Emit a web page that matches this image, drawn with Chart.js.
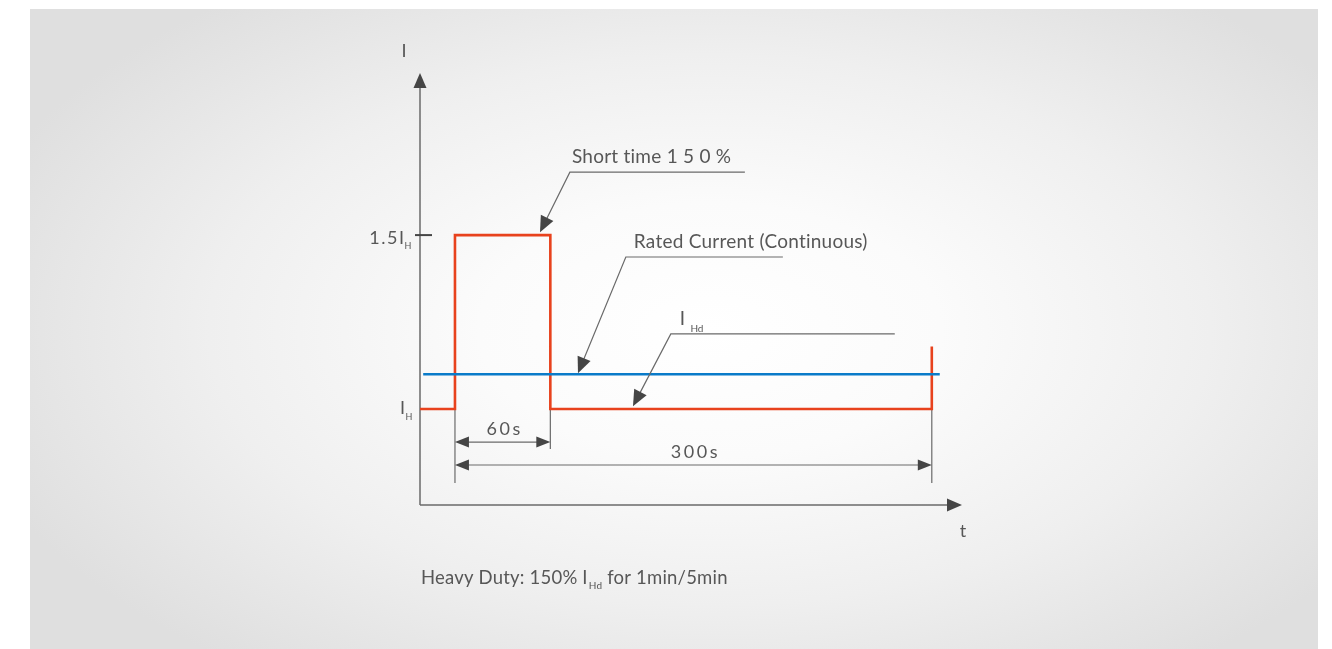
<!DOCTYPE html>
<html>
<head>
<meta charset="utf-8">
<script src="https://cdn.jsdelivr.net/npm/chart.js@4/dist/chart.umd.min.js"></script>
<style>
  html, body { margin: 0; padding: 0; background: #ffffff; overflow: hidden; }
  #wrap { width: 1332px; height: 649px; }
</style>
</head>
<body>
<div id="wrap"><canvas id="c" width="1332" height="649"></canvas></div>
<script>
// ---- data (time in s, current in units of I_H) ----
const redTime    = [-22, 0, 0, 60, 60, 300, 300];
const redCurrent = [1, 1, 1.5, 1.5, 1, 1, 1.18];
const blueTime    = [-20, 305];
const blueCurrent = [1.1, 1.1];
const yTickValues = [1.5, 1];
const yTickMain   = ["1.5I", "I"];
const yTickSub    = ["H", "H"];
const axisRangeT  = [-22, 319];
const axisRangeI  = [0.724, 1.966];
const dimSpans    = [[0, 60], [0, 300]];
const dimLabels   = ["60s", "300s"];
const dimLevels   = [0.905, 0.839];
const extLines    = [[0, 0.787], [60, 0.885], [300, 0.787]];
// annotations: [tipT, tipI, elbowT, elbowI, endT]
const annoTexts = ["Short time 1 5 0 %", "Rated Current (Continuous)", "I"];
const annoSubs  = ["", "", "Hd"];
const annoGeom  = [
  [53.5, 1.508, 72.3, 1.681, 182.4],
  [77.4, 1.103, 107.5, 1.437, 206.3],
  [112, 1.008, 135.8, 1.216, 276.7]
];
const footerParts = ["Heavy Duty: 150% I", "Hd", " for 1min/5min"];

const FONT = 'Lato, "Open Sans", sans-serif';
const TXT = '#575757';
const LINE = '#6a6a6a';
const HEAD = '#454545';
const annoTextDx = [2, 8, 9];

function tri(ctx, tipX, tipY, fromX, fromY, len, half) {
  const a = Math.atan2(tipY - fromY, tipX - fromX);
  const bx = tipX - len * Math.cos(a), by = tipY - len * Math.sin(a);
  const nx = -Math.sin(a), ny = Math.cos(a);
  ctx.beginPath();
  ctx.moveTo(tipX, tipY);
  ctx.lineTo(bx + nx * half, by + ny * half);
  ctx.lineTo(bx - nx * half, by - ny * half);
  ctx.closePath();
  ctx.fill();
}

const diagramPlugin = {
  id: 'diagram',
  beforeDraw(chart) {
    const ctx = chart.ctx;
    ctx.save();
    ctx.fillStyle = '#ffffff';
    ctx.fillRect(0, 0, chart.width, chart.height);
    ctx.beginPath();
    ctx.rect(30, 9, 1288, 640);
    ctx.clip();
    ctx.translate(710, 330);
    ctx.scale(1, 0.55);
    const g = ctx.createRadialGradient(0, 0, 0, 0, 0, 770);
    g.addColorStop(0, '#ffffff');
    g.addColorStop(0.3, '#fbfbfb');
    g.addColorStop(0.65, '#efefef');
    g.addColorStop(1, '#dfdfdf');
    ctx.fillStyle = g;
    ctx.fillRect(-800, -700, 1600, 1400);
    ctx.restore();
  },
  beforeDatasetsDraw(chart) {
    const ctx = chart.ctx, xs = chart.scales.x, ys = chart.scales.y;
    const x0 = xs.getPixelForValue(axisRangeT[0]);
    const y0 = ys.getPixelForValue(axisRangeI[0]);
    const xEnd = xs.getPixelForValue(axisRangeT[1]);
    const yTop = ys.getPixelForValue(axisRangeI[1]);
    ctx.save();
    ctx.strokeStyle = LINE; ctx.fillStyle = HEAD; ctx.lineWidth = 1.5;
    // y axis
    ctx.beginPath(); ctx.moveTo(x0, y0); ctx.lineTo(x0, yTop + 12); ctx.stroke();
    tri(ctx, x0, yTop, x0, yTop + 20, 15, 6.5);
    // x axis
    ctx.beginPath(); ctx.moveTo(x0, y0); ctx.lineTo(xEnd - 12, y0); ctx.stroke();
    tri(ctx, xEnd, y0, xEnd - 20, y0, 15, 6.5);
    // axis names
    ctx.fillStyle = TXT;
    ctx.font = '18px ' + FONT;
    ctx.textAlign = 'center'; ctx.textBaseline = 'alphabetic';
    ctx.fillText('I', x0 - 16, yTop - 16);
    ctx.fillText('t', xEnd + 1, y0 + 32);
    // y ticks
    yTickValues.forEach((v, i) => {
      const py = ys.getPixelForValue(v);
      if (i === 0) {
        ctx.strokeStyle = HEAD; ctx.lineWidth = 2;
        ctx.beginPath(); ctx.moveTo(x0 - 5, py); ctx.lineTo(x0 + 12, py); ctx.stroke();
      }
      ctx.fillStyle = TXT;
      ctx.font = '18px ' + FONT;
      ctx.textAlign = 'right'; ctx.textBaseline = 'alphabetic';
      ctx.save();
      ctx.letterSpacing = '1.5px';
      const subW = i === 0 ? 11 : 10;
      ctx.fillText(yTickMain[i], x0 - 5 - subW + 1.5, py + (i === 0 ? 9 : 5));
      ctx.restore();
      ctx.font = '9px ' + FONT;
      ctx.textAlign = 'left';
      ctx.fillText(yTickSub[i], x0 - 5 - subW + 0.5, py + (i === 0 ? 14 : 11));
    });
    // extension lines
    ctx.strokeStyle = LINE; ctx.lineWidth = 1.2;
    extLines.forEach(([t, lo]) => {
      const px = xs.getPixelForValue(t);
      ctx.beginPath();
      ctx.moveTo(px, ys.getPixelForValue(1));
      ctx.lineTo(px, ys.getPixelForValue(lo));
      ctx.stroke();
    });
    // dimension arrows
    dimSpans.forEach(([a, b], i) => {
      const pa = xs.getPixelForValue(a), pb = xs.getPixelForValue(b);
      const py = ys.getPixelForValue(dimLevels[i]);
      ctx.strokeStyle = LINE; ctx.lineWidth = 1.2;
      ctx.beginPath(); ctx.moveTo(pa + 8, py); ctx.lineTo(pb - 8, py); ctx.stroke();
      ctx.fillStyle = HEAD;
      tri(ctx, pa, py, pa + 20, py, 14, 5.5);
      tri(ctx, pb, py, pb - 20, py, 14, 5.5);
      ctx.fillStyle = TXT;
      ctx.font = '18px ' + FONT;
      ctx.textAlign = 'center'; ctx.textBaseline = 'alphabetic';
      ctx.save();
      ctx.letterSpacing = '2.5px';
      ctx.fillText(dimLabels[i], (pa + pb) / 2 + 2, py - 7);
      ctx.restore();
    });
    ctx.restore();
  },
  afterDatasetsDraw(chart) {
    const ctx = chart.ctx, xs = chart.scales.x, ys = chart.scales.y;
    ctx.save();
    annoGeom.forEach((g, i) => {
      const tx = xs.getPixelForValue(g[0]), ty = ys.getPixelForValue(g[1]);
      const ex = xs.getPixelForValue(g[2]), ey = ys.getPixelForValue(g[3]);
      const endX = xs.getPixelForValue(g[4]);
      ctx.strokeStyle = LINE; ctx.lineWidth = 1.2;
      const a = Math.atan2(ty - ey, tx - ex);
      ctx.beginPath();
      ctx.moveTo(endX, ey); ctx.lineTo(ex, ey);
      ctx.lineTo(tx - 10 * Math.cos(a), ty - 10 * Math.sin(a));
      ctx.stroke();
      ctx.fillStyle = HEAD;
      tri(ctx, tx, ty, ex, ey, 16, 7);
      ctx.fillStyle = TXT;
      ctx.textAlign = 'left'; ctx.textBaseline = 'alphabetic';
      ctx.font = '19px ' + FONT;
      ctx.save();
      ctx.letterSpacing = '0.25px';
      ctx.fillText(annoTexts[i], ex + annoTextDx[i], ey - 9);
      const w = ctx.measureText(annoTexts[i]).width;
      ctx.restore();
      if (annoSubs[i]) {
        ctx.font = '10px ' + FONT;
        ctx.fillText(annoSubs[i], ex + annoTextDx[i] + w + 5, ey - 2);
      }
    });
    // footer
    const fx = xs.getPixelForValue(axisRangeT[0]);
    ctx.fillStyle = TXT;
    ctx.textBaseline = 'alphabetic';
    ctx.letterSpacing = '0.2px';
    ctx.font = '18.5px ' + FONT;
    ctx.fillText(footerParts[0], fx + 1, 584);
    const w1 = ctx.measureText(footerParts[0]).width;
    ctx.font = '10px ' + FONT;
    ctx.fillText(footerParts[1], fx + 1 + w1 + 1, 589);
    const w2 = ctx.measureText(footerParts[1]).width;
    ctx.font = '18.5px ' + FONT;
    ctx.fillText(footerParts[2], fx + 1 + w1 + w2 + 1, 584);
    ctx.restore();
  }
};

const toPts = (ts, vs) => ts.map((t, i) => ({ x: t, y: vs[i] }));

new Chart(document.getElementById('c'), {
  type: 'line',
  data: {
    datasets: [
      { data: toPts(blueTime, blueCurrent), borderColor: '#0a7bc9', borderWidth: 2.6,
        pointRadius: 0, tension: 0, fill: false },
      { data: toPts(redTime, redCurrent), borderColor: '#e8421d', borderWidth: 2.6,
        pointRadius: 0, tension: 0, fill: false, borderJoinStyle: 'miter' }
    ]
  },
  options: {
    responsive: false,
    animation: false,
    devicePixelRatio: 1,
    layout: { padding: { left: 420, right: 370, top: 73, bottom: 144 } },
    plugins: { legend: { display: false }, tooltip: { enabled: false } },
    scales: {
      x: { type: 'linear', display: false, min: axisRangeT[0], max: axisRangeT[1] },
      y: { type: 'linear', display: false, min: axisRangeI[0], max: axisRangeI[1] }
    }
  },
  plugins: [diagramPlugin]
});
</script>
</body>
</html>
